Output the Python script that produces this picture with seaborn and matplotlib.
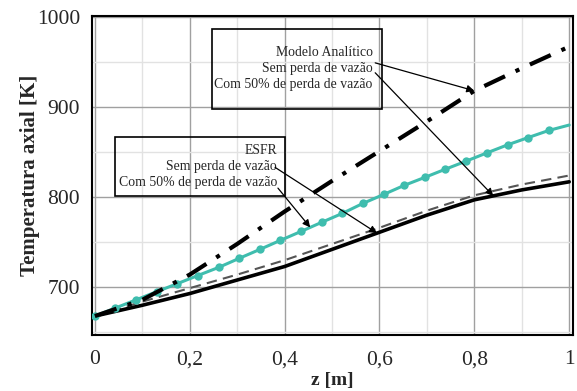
import numpy as np
import pandas as pd
import matplotlib
matplotlib.use("Agg")
import matplotlib.pyplot as plt
import seaborn as sns
from matplotlib.patches import Rectangle
from matplotlib.ticker import MultipleLocator, FuncFormatter

# ---- data ----
z_coarse = [0.0, 0.1, 0.2, 0.3, 0.4, 0.5, 0.6, 0.7, 0.8, 0.9, 1.0]
analitico = [668, 686, 714, 748, 784, 818, 851, 884, 918, 943, 967]
esfr_sem = [668, 680, 693, 708, 723, 742, 761, 780, 797, 808, 817]
esfr_com50 = [668, 684, 699, 714, 730, 748, 766, 785, 802, 814, 824]

z_teal = [0.0, 0.0435, 0.087, 0.130, 0.174, 0.217, 0.261, 0.304, 0.348, 0.391,
          0.435, 0.478, 0.522, 0.565, 0.609, 0.652, 0.696, 0.739, 0.783, 0.826,
          0.870, 0.913, 0.957, 1.0]
teal_vals = [668, 677, 686, 695, 704, 713, 722, 732, 742, 752,
             762, 772, 782, 793, 803, 813, 822, 831, 840, 849,
             858, 866, 874, 880]

x_ticks = [0, 0.2, 0.4, 0.6, 0.8, 1.0]
y_ticks = [700, 800, 900, 1000]

sns.set_style("white")
plt.rcParams['font.family'] = ['Liberation Serif', 'DejaVu Serif']

W, H = 577, 391
fig = plt.figure(figsize=(W / 100, H / 100), dpi=100)
ax = fig.add_axes([92 / W, 1 - 335 / H, 481 / W, 319 / H])

df_a = pd.DataFrame({"z": z_coarse, "T": analitico})
df_s = pd.DataFrame({"z": z_coarse, "T": esfr_sem})
df_c = pd.DataFrame({"z": z_coarse, "T": esfr_com50})
df_t = pd.DataFrame({"z": z_teal, "T": teal_vals})

teal = "#3fbdae"
sns.lineplot(data=df_t, x="z", y="T", ax=ax, color=teal, lw=2.2, marker="o",
             markersize=6, markeredgewidth=0, markevery=list(range(len(z_teal) - 1)),
             zorder=4)
sns.lineplot(data=df_c, x="z", y="T", ax=ax, color="#555555", lw=1.5,
             zorder=3).lines[-1].set_dashes([5, 3])
sns.lineplot(data=df_s, x="z", y="T", ax=ax, color="black", lw=2.6, zorder=3)
ln = sns.lineplot(data=df_a, x="z", y="T", ax=ax, color="black", lw=3, zorder=5).lines[-1]
ln.set_dashes([5.5, 2.8, 1, 2.8])
ln.set_dash_capstyle("butt")

ax.set_xlim(-0.006, 1.008)
ax.set_ylim(647, 1001)
ax.xaxis.set_minor_locator(MultipleLocator(0.1))
ax.yaxis.set_minor_locator(MultipleLocator(50))
ax.set_xticks(x_ticks)
ax.set_yticks(y_ticks)
ax.xaxis.set_major_formatter(FuncFormatter(lambda v, p: ("%g" % v).replace(".", ",")))
ax.grid(which="major", color="#a0a0a0", lw=1.0)
ax.grid(which="minor", color="#e2e2e2", lw=1.0)
ax.set_axisbelow(True)
ax.tick_params(which="both", direction="out", color="black", labelsize=15.5)
ax.tick_params(which="major", length=5, width=1.2)
ax.tick_params(which="minor", length=4, width=1.0)
ax.tick_params(axis="x", pad=6)
for s in ax.spines.values():
    s.set_color("black")
    s.set_linewidth(1.5)

ax.set_xlabel("z [m]", fontsize=14, fontweight="bold", labelpad=2)
ax.set_ylabel("Temperatura axial [K]", fontsize=15, fontweight="bold", labelpad=-2)

# ---- annotation boxes ----
fs = 9.9
ax.add_patch(Rectangle((0.247, 898), 0.358, 89, fill=False, ec="black", lw=1.2, zorder=6))
ax.text(0.586, 943, "Modelo Analítico\nSem perda de vazão\nCom 50% de perda de vazão",
        ha="right", va="center", fontsize=fs, linespacing=1.3, zorder=7)
ax.add_patch(Rectangle((0.042, 801), 0.359, 66, fill=False, ec="black", lw=1.2, zorder=6))
ax.text(0.384, 834, "ESFR\nSem perda de vazão\nCom 50% de perda de vazão",
        ha="right", va="center", fontsize=fs, linespacing=1.3, zorder=7)

ap = dict(arrowstyle="-|>", color="black", lw=0.9, mutation_scale=11, shrinkA=0, shrinkB=0)
z1 = 0.80
ax.annotate("", xy=(z1, np.interp(z1, z_coarse, analitico)), xytext=(0.591, 949), arrowprops=ap, zorder=8)
z2 = 0.84
ax.annotate("", xy=(z2, np.interp(z2, z_coarse, esfr_sem)), xytext=(0.591, 938), arrowprops=ap, zorder=8)
z3 = 0.595
ax.annotate("", xy=(z3, np.interp(z3, z_coarse, esfr_sem)), xytext=(0.38, 833), arrowprops=ap, zorder=8)
z4 = 0.454
ax.annotate("", xy=(z4, np.interp(z4, z_teal, teal_vals)), xytext=(0.386, 810), arrowprops=ap, zorder=8)

fig.savefig("out.png", dpi=100)
